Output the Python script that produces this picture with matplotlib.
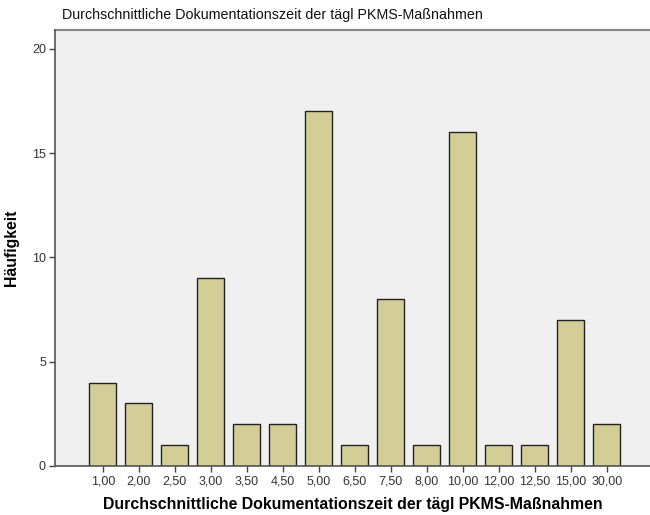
import matplotlib
matplotlib.use('Agg')
import matplotlib.pyplot as plt

categories = ['1,00', '2,00', '2,50', '3,00', '3,50', '4,50', '5,00', '6,50',
              '7,50', '8,00', '10,00', '12,00', '12,50', '15,00', '30,00']
counts = [4, 3, 1, 9, 2, 2, 17, 1, 8, 1, 16, 1, 1, 7, 2]
yticks = [0, 5, 10, 15, 20]

plt.rcParams['font.family'] = ['Liberation Sans', 'DejaVu Sans']

fig = plt.figure(figsize=(6.5, 5.15), dpi=100)
ax = fig.add_axes([55 / 650, 1 - 466 / 515, 1 - 55 / 650, (466 - 30) / 515])
ax.set_facecolor('#F0F0F0')

x = list(range(len(categories)))
ax.bar(x, counts, width=0.75, color='#D3CE97', edgecolor='#222222', linewidth=1.0, zorder=2)

ax.set_xlim(-1.33, 15.2)
ax.set_ylim(0, 20.9)
ax.set_xticks(x)
ax.set_xticklabels(categories, fontsize=9, color='#333333')
ax.set_yticks(yticks)
ax.set_yticklabels([str(v) for v in yticks], fontsize=9, color='#333333')
ax.tick_params(axis='both', length=4.5, width=1, color='#444444', pad=2)

for side in ['top', 'right']:
    ax.spines[side].set_visible(False)
ax.spines['left'].set_color('#555555')
ax.spines['left'].set_linewidth(1.2)
ax.spines['bottom'].set_color('#555555')
ax.spines['bottom'].set_linewidth(1.2)
# thin grey line closing the frame at the top
ax.axhline(20.9, color='#888888', linewidth=1.5, clip_on=False)

ax.set_xlabel('Durchschnittliche Dokumentationszeit der tägl PKMS-Maßnahmen',
              fontsize=11.4, fontweight='bold', labelpad=7)
ax.set_ylabel('Häufigkeit', fontsize=11.4, fontweight='bold', labelpad=9)
fig.text(62 / 650, 1 - 15 / 515, 'Durchschnittliche Dokumentationszeit der tägl PKMS-Maßnahmen',
         fontsize=10.3, va='center', ha='left', color='#111111')

fig.savefig('out.png', dpi=100)
